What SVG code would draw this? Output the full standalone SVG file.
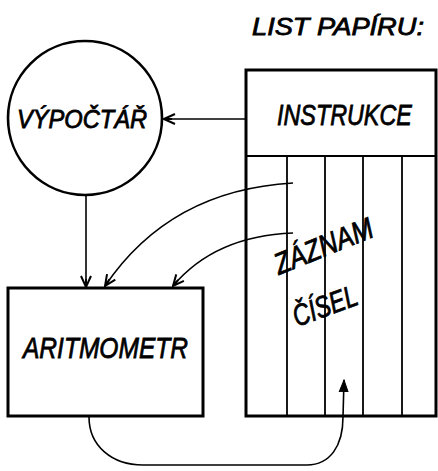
<svg xmlns="http://www.w3.org/2000/svg" width="438" height="471" viewBox="0 0 438 471">
  <style>
    .lbl { font-family: "Liberation Sans", Arial, sans-serif; font-style: italic; fill: #000; stroke: #000; stroke-width: 0.8; }
    .frame { fill: #fff; stroke: #000; stroke-width: 3; }
    .thin { fill: none; stroke: #000; stroke-width: 1.8; }
    .wire { fill: none; stroke: #000; stroke-width: 1.6; }
  </style>
  <defs>
    <marker id="open" viewBox="-12 -6 13 12" refX="0" refY="0" markerWidth="13" markerHeight="12" markerUnits="userSpaceOnUse" orient="auto">
      <path d="M-11,-5 L0,0 L-11,5 M-8,0 L0,0" fill="none" stroke="#000" stroke-width="2"/>
    </marker>
    <marker id="solid" viewBox="-12 -6 13 12" refX="0" refY="0" markerWidth="13" markerHeight="12" markerUnits="userSpaceOnUse" orient="auto">
      <path d="M-12,-4.5 L0,0 L-12,4.5 Z" fill="#000" stroke="#000" stroke-width="1"/>
    </marker>
  </defs>

  <rect width="438" height="471" fill="#fff"/>

  <!-- sheet heading -->
  <text class="lbl" x="252" y="35" font-size="24" textLength="172" lengthAdjust="spacingAndGlyphs">LIST  PAPÍRU:</text>

  <!-- computer -->
  <g id="vypoctar">
    <circle cx="85" cy="118" r="77" fill="#fff" stroke="#000" stroke-width="2.6"/>
    <text class="lbl" x="17" y="128" font-size="25" textLength="130" lengthAdjust="spacingAndGlyphs">VÝPOČTÁŘ</text>
  </g>

  <!-- arithmetic unit -->
  <g id="aritmometr">
    <rect class="frame" x="8" y="288" width="195" height="128"/>
    <text class="lbl" x="23" y="358" font-size="30" textLength="165" lengthAdjust="spacingAndGlyphs">ARITMOMETR</text>
  </g>

  <!-- paper sheet: instructions header + number columns -->
  <g id="list-papiru">
    <rect class="frame" x="246" y="70" width="190" height="346"/>
    <line class="thin" x1="246" y1="156" x2="436" y2="156"/>
    <line class="thin" x1="287" y1="156" x2="287" y2="416"/>
    <line class="thin" x1="325" y1="156" x2="325" y2="416"/>
    <line class="thin" x1="363" y1="156" x2="363" y2="416"/>
    <line class="thin" x1="402" y1="156" x2="402" y2="416"/>
    <!-- header label, narrowed horizontally to the condensed lettering -->
    <text class="lbl" x="0" y="0" font-size="29" transform="translate(277,125) scale(0.805,1)">INSTRUKCE</text>
    <text class="lbl" x="0" y="0" font-size="30" textLength="104" lengthAdjust="spacingAndGlyphs" transform="translate(279,275) rotate(-22)">ZÁZNAM</text>
    <text class="lbl" x="0" y="0" font-size="30" textLength="67" lengthAdjust="spacingAndGlyphs" transform="translate(297,327) rotate(-20)">ČÍSEL</text>
  </g>

  <!-- connectors -->
  <g id="connectors">
    <line class="wire" x1="246" y1="119" x2="164" y2="119" marker-end="url(#open)"/>
    <line class="wire" x1="86" y1="195" x2="86" y2="287" marker-end="url(#open)"/>
    <path class="wire" d="M293,183 Q170,190 105,286" marker-end="url(#open)"/>
    <path class="wire" d="M293,233 Q215,236 173,286" marker-end="url(#open)"/>
    <path class="wire" d="M89,417 C89,446 112,465 143,465 L307,465 C330,465 343,446 343,417 L344,380" marker-end="url(#solid)"/>
  </g>
</svg>
